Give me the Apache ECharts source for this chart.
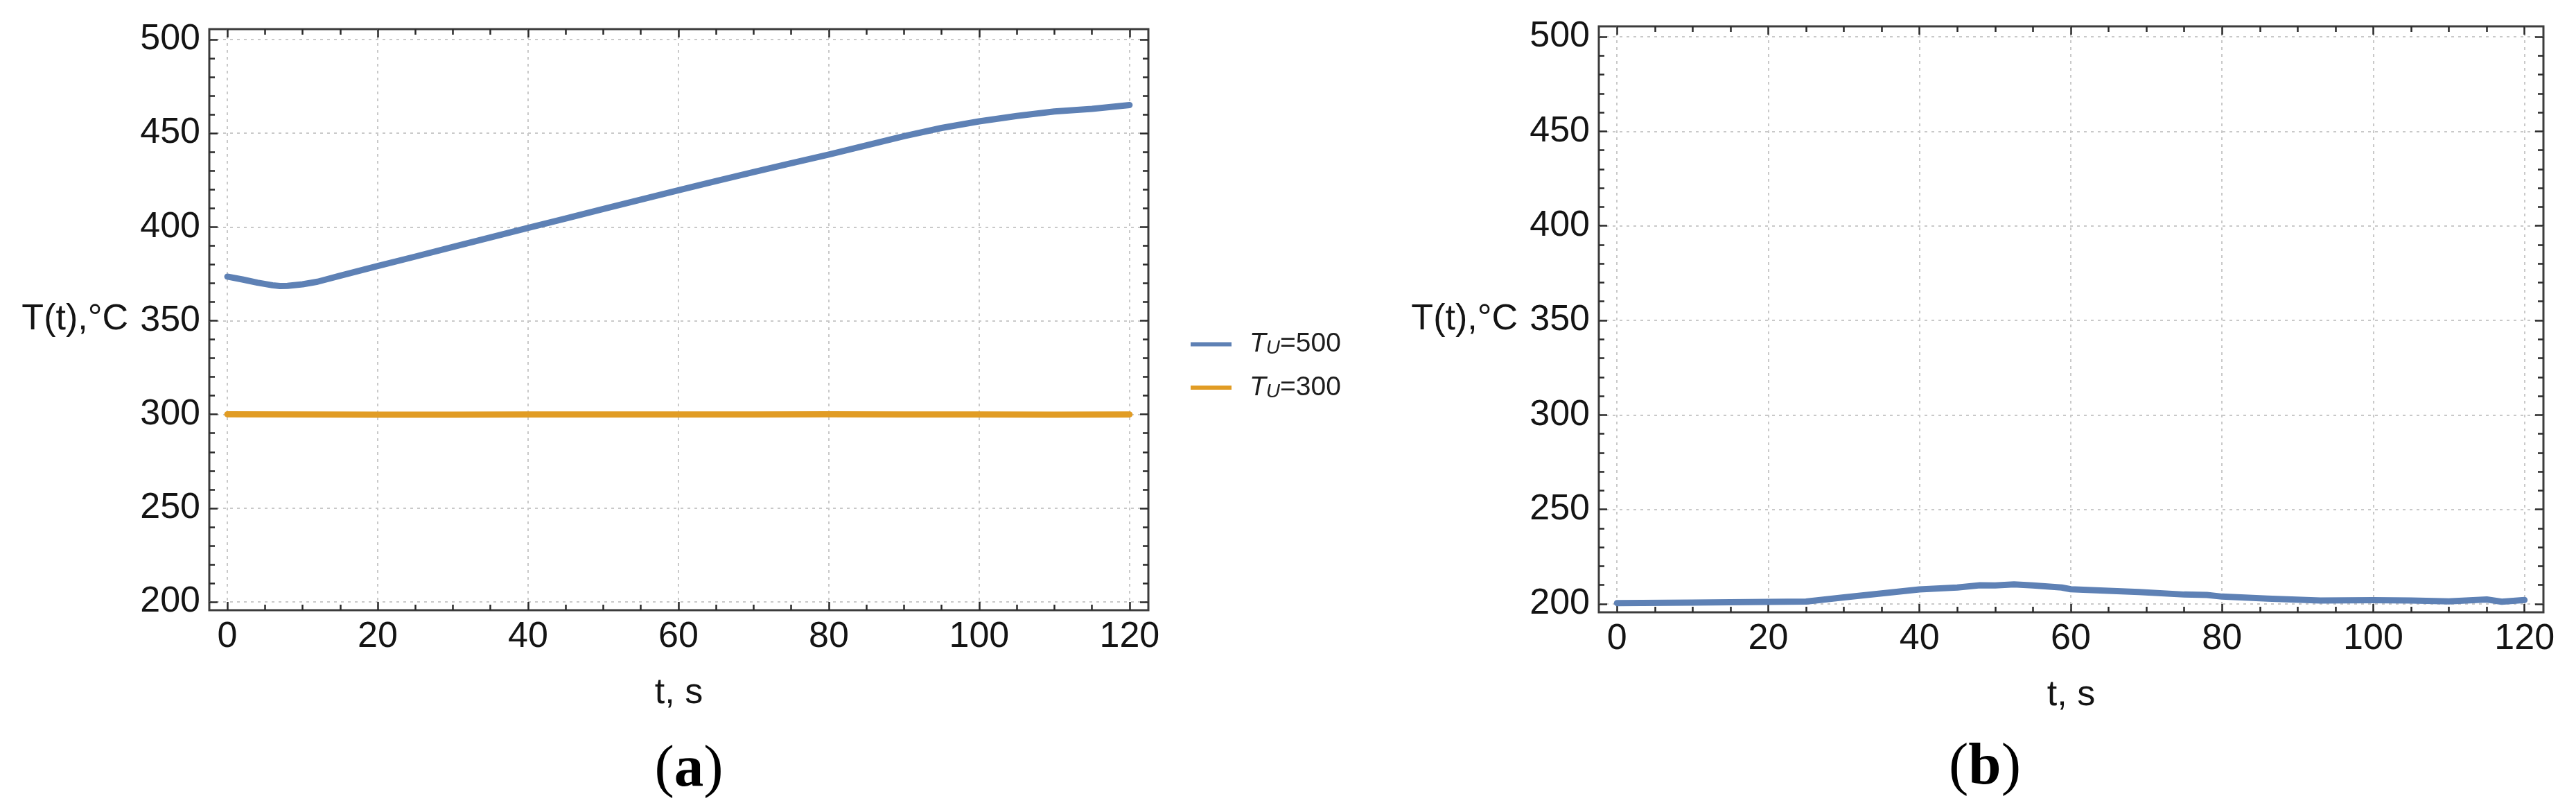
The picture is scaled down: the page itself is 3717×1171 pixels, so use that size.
<!DOCTYPE html>
<html>
<head>
<meta charset="utf-8">
<script src="https://cdn.jsdelivr.net/npm/echarts@6/dist/echarts.min.js"></script>
<style>
html,body{margin:0;padding:0;background:#ffffff;}
#chart{width:3717px;height:1171px;}
</style>
</head>
<body>
<div id="chart"></div>
<script>
// ---------------- data ----------------
const timeA = [0, 2, 4, 6, 7, 8, 10, 12, 15, 20, 25, 30, 35, 40, 45, 50, 55, 60, 65, 70, 75, 80, 85, 90, 95, 100, 105, 110, 115, 120];
const tempA500 = [373.5, 372.0, 370.3, 368.9, 368.5, 368.6, 369.4, 370.8, 374.0, 379.2, 384.2, 389.3, 394.4, 399.5, 404.5, 409.6, 414.6, 419.6, 424.5, 429.3, 434.0, 438.6, 443.5, 448.4, 452.8, 456.3, 459.2, 461.6, 463.0, 465.0];
const timeA300 = [0, 10, 20, 30, 40, 50, 60, 70, 80, 90, 100, 110, 120];
const tempA300 = [300.1, 300.0, 299.9, 299.9, 300.0, 300.0, 300.0, 300.0, 300.1, 300.0, 300.0, 299.9, 300.0];
const timeB = [0, 10, 20, 25, 30, 35, 40, 45, 48, 50, 52.5, 55, 58.8, 60, 65, 69, 75, 78, 80, 86, 93, 100, 105, 110, 115, 117, 120];
const tempB500 = [200.5, 200.7, 201.1, 201.3, 203.5, 205.6, 207.7, 208.7, 209.9, 209.8, 210.4, 209.8, 208.7, 207.8, 207.0, 206.3, 205.0, 204.8, 203.9, 202.8, 201.8, 202.0, 201.8, 201.4, 202.4, 201.2, 202.1];
const xTickValues = [0, 20, 40, 60, 80, 100, 120];
const yTickValues = [200, 250, 300, 350, 400, 450, 500];
const xMinorTickValues = [5, 10, 15, 25, 30, 35, 45, 50, 55, 65, 70, 75, 85, 90, 95, 105, 110, 115];
const yMinorTickValues = [210, 220, 230, 240, 260, 270, 280, 290, 310, 320, 330, 340, 360, 370, 380, 390, 410, 420, 430, 440, 460, 470, 480, 490];
const seriesNames = ['T_U=500', 'T_U=300'];
const panelLabels = ['a', 'b'];
const xName = 't, s';
const yName = 'T(t),\u00B0C';

// ---------------- layout / style ----------------
const X_RANGE = [-2.4, 122.5];
const Y_RANGE = [195.6, 505.5];
const frames = [
  {left: 302, right: 1657, top: 42, bottom: 880},
  {left: 2307, right: 3670, top: 38, bottom: 883}
];
const panelLabelPos = [[994, 1111], [2864, 1108]];
const BLUE = '#5e81b5', ORANGE = '#e19c24';
const FONT = 'Liberation Sans';
const TXT = '#141414';
const FRAME_COLOR = '#3c3c3c';
const TICK_COLOR = '#2a2a2a';

const pairs = (xs, ys) => xs.map((x, i) => [x, ys[i]]);

const grids = [], xAxes = [], yAxes = [];
const gridLine = {show: true, lineStyle: {color: '#c9c9c9', width: 2, type: [4, 6]}};
const labelStyle = {fontSize: 52, fontFamily: FONT, color: TXT};

function tickAxis(base, values, len, extra) {
  return Object.assign({
    type: 'value', axisLine: {show: false, onZero: false},
    axisTick: {show: true, inside: true, length: len, customValues: values,
      lineStyle: {color: TICK_COLOR, width: 2.5}},
    axisLabel: {show: false}, splitLine: {show: false}
  }, base, extra || {});
}

frames.forEach((f, p) => {
  const W = f.right - f.left, H = f.bottom - f.top;
  grids.push({left: f.left, top: f.top, width: W, height: H, show: true,
    borderColor: FRAME_COLOR, borderWidth: 3, backgroundColor: 'transparent'});
  const xb = {gridIndex: p, min: X_RANGE[0], max: X_RANGE[1]};
  const yb = {gridIndex: p, min: Y_RANGE[0], max: Y_RANGE[1]};
  // x axes: 0 bottom major (labels, grid, name), 1 top major, 2 bottom minor, 3 top minor
  xAxes.push(tickAxis(Object.assign({position: 'bottom'}, xb), xTickValues, 12, {
    axisLabel: Object.assign({customValues: xTickValues, margin: 13}, labelStyle),
    splitLine: gridLine,
    name: xName, nameLocation: 'middle', nameGap: 120,
    nameTextStyle: Object.assign({verticalAlign: 'middle', align: 'center'}, labelStyle)
  }));
  xAxes.push(tickAxis(Object.assign({position: 'top'}, xb), xTickValues, 12));
  xAxes.push(tickAxis(Object.assign({position: 'bottom'}, xb), xMinorTickValues, 8));
  xAxes.push(tickAxis(Object.assign({position: 'top'}, xb), xMinorTickValues, 8));
  // y axes
  yAxes.push(tickAxis(Object.assign({position: 'left'}, yb), yTickValues, 12, {
    axisLabel: Object.assign({customValues: yTickValues, margin: 13}, labelStyle),
    splitLine: gridLine,
    name: yName, nameLocation: 'middle', nameGap: 117, nameRotate: 0,
    nameTextStyle: Object.assign({align: 'right', verticalAlign: 'middle'}, labelStyle)
  }));
  yAxes.push(tickAxis(Object.assign({position: 'right'}, yb), yTickValues, 12));
  yAxes.push(tickAxis(Object.assign({position: 'left'}, yb), yMinorTickValues, 8));
  yAxes.push(tickAxis(Object.assign({position: 'right'}, yb), yMinorTickValues, 8));
});

const lineSeries = (name, data, color, p) => ({
  type: 'line', name: name, data: data, xAxisIndex: 4 * p, yAxisIndex: 4 * p,
  showSymbol: false, symbol: 'none', smooth: false, clip: false,
  lineStyle: {color: color, width: 9, cap: 'round', join: 'round'}, itemStyle: {color: color},
  emphasis: {disabled: true}, z: 5
});

const option = {
  animation: false,
  backgroundColor: '#ffffff',
  grid: grids,
  xAxis: xAxes,
  yAxis: yAxes,
  legend: {
    data: seriesNames.map(n => ({name: n, icon: 'rect'})),
    orient: 'vertical', left: 1718, top: 477, padding: 0,
    itemWidth: 59, itemHeight: 6, itemGap: 23,
    formatter: n => '{it|T}{sub|U}{n|=' + n.split('=')[1] + '}',
    textStyle: {
      color: '#1e1e1e', fontFamily: FONT, fontSize: 39,
      rich: {
        it: {fontStyle: 'italic', fontSize: 39, fontFamily: FONT, color: '#1e1e1e', lineHeight: 40, padding: [0, 0, 0, 21]},
        sub: {fontStyle: 'italic', fontSize: 28, fontFamily: FONT, color: '#1e1e1e', lineHeight: 26, verticalAlign: 'bottom'},
        n: {fontSize: 39, fontFamily: FONT, color: '#1e1e1e', lineHeight: 40}
      }
    }
  },
  graphic: panelLabels.map((lab, i) => ({
    type: 'text', x: panelLabelPos[i][0], y: panelLabelPos[i][1], silent: true,
    style: {
      text: '{p|(}{b|' + lab + '}{p|)}',
      align: 'center', verticalAlign: 'middle',
      rich: {
        p: {fontSize: 85, fontFamily: 'Liberation Serif', fill: '#000', color: '#000'},
        b: {fontSize: 85, fontFamily: 'Liberation Serif', fontWeight: 'bold', fill: '#000', color: '#000'}
      }
    }
  })),
  series: [
    lineSeries(seriesNames[0], pairs(timeA, tempA500), BLUE, 0),
    lineSeries(seriesNames[1], pairs(timeA300, tempA300), ORANGE, 0),
    lineSeries(seriesNames[0], pairs(timeB, tempB500), BLUE, 1)
  ]
};

const chart = echarts.init(document.getElementById('chart'), null, {renderer: 'canvas', width: 3717, height: 1171});
chart.setOption(option);
</script>
</body>
</html>
